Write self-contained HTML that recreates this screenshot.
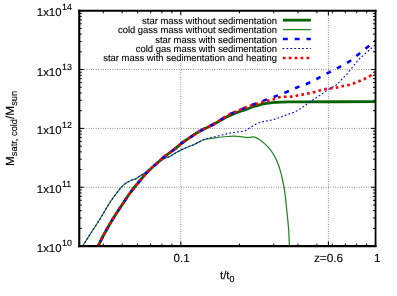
<!DOCTYPE html>
<html><head><meta charset="utf-8"><title>plot</title>
<style>html,body{margin:0;padding:0;background:#fff;}svg{display:block}text{font-family:"Liberation Sans",sans-serif;fill:#000;stroke:#000;stroke-width:0.12px;text-rendering:geometricPrecision}</style>
</head><body>
<svg width="397" height="296" viewBox="0 0 397 296">
<rect width="397" height="296" fill="#fff"/>
<g stroke="#000" stroke-width="0.64" stroke-dasharray="0.75,1.62" stroke-opacity="0.9" fill="none">
<line x1="79.25" y1="187.25" x2="375.50" y2="187.25"/>
<line x1="79.25" y1="128.40" x2="375.50" y2="128.40"/>
<line x1="79.25" y1="69.55" x2="375.50" y2="69.55"/>
<line x1="180.80" y1="246.10" x2="180.80" y2="10.70"/>
<line x1="328.40" y1="246.10" x2="328.40" y2="10.70"/>
</g>
<rect x="100" y="14" width="216" height="48.3" fill="#fff"/>
<g stroke="#000" stroke-width="1.00" fill="none">
<line x1="79.25" y1="246.10" x2="83.85" y2="246.10"/>
<line x1="375.50" y1="246.10" x2="370.90" y2="246.10"/>
<line x1="79.25" y1="228.38" x2="81.80" y2="228.38"/>
<line x1="375.50" y1="228.38" x2="372.95" y2="228.38"/>
<line x1="79.25" y1="218.02" x2="81.80" y2="218.02"/>
<line x1="375.50" y1="218.02" x2="372.95" y2="218.02"/>
<line x1="79.25" y1="210.67" x2="81.80" y2="210.67"/>
<line x1="375.50" y1="210.67" x2="372.95" y2="210.67"/>
<line x1="79.25" y1="204.97" x2="81.80" y2="204.97"/>
<line x1="375.50" y1="204.97" x2="372.95" y2="204.97"/>
<line x1="79.25" y1="200.31" x2="81.80" y2="200.31"/>
<line x1="375.50" y1="200.31" x2="372.95" y2="200.31"/>
<line x1="79.25" y1="196.37" x2="81.80" y2="196.37"/>
<line x1="375.50" y1="196.37" x2="372.95" y2="196.37"/>
<line x1="79.25" y1="192.95" x2="81.80" y2="192.95"/>
<line x1="375.50" y1="192.95" x2="372.95" y2="192.95"/>
<line x1="79.25" y1="189.94" x2="81.80" y2="189.94"/>
<line x1="375.50" y1="189.94" x2="372.95" y2="189.94"/>
<line x1="79.25" y1="187.25" x2="83.85" y2="187.25"/>
<line x1="375.50" y1="187.25" x2="370.90" y2="187.25"/>
<line x1="79.25" y1="169.53" x2="81.80" y2="169.53"/>
<line x1="375.50" y1="169.53" x2="372.95" y2="169.53"/>
<line x1="79.25" y1="159.17" x2="81.80" y2="159.17"/>
<line x1="375.50" y1="159.17" x2="372.95" y2="159.17"/>
<line x1="79.25" y1="151.82" x2="81.80" y2="151.82"/>
<line x1="375.50" y1="151.82" x2="372.95" y2="151.82"/>
<line x1="79.25" y1="146.12" x2="81.80" y2="146.12"/>
<line x1="375.50" y1="146.12" x2="372.95" y2="146.12"/>
<line x1="79.25" y1="141.46" x2="81.80" y2="141.46"/>
<line x1="375.50" y1="141.46" x2="372.95" y2="141.46"/>
<line x1="79.25" y1="137.52" x2="81.80" y2="137.52"/>
<line x1="375.50" y1="137.52" x2="372.95" y2="137.52"/>
<line x1="79.25" y1="134.10" x2="81.80" y2="134.10"/>
<line x1="375.50" y1="134.10" x2="372.95" y2="134.10"/>
<line x1="79.25" y1="131.09" x2="81.80" y2="131.09"/>
<line x1="375.50" y1="131.09" x2="372.95" y2="131.09"/>
<line x1="79.25" y1="128.40" x2="83.85" y2="128.40"/>
<line x1="375.50" y1="128.40" x2="370.90" y2="128.40"/>
<line x1="79.25" y1="110.68" x2="81.80" y2="110.68"/>
<line x1="375.50" y1="110.68" x2="372.95" y2="110.68"/>
<line x1="79.25" y1="100.32" x2="81.80" y2="100.32"/>
<line x1="375.50" y1="100.32" x2="372.95" y2="100.32"/>
<line x1="79.25" y1="92.97" x2="81.80" y2="92.97"/>
<line x1="375.50" y1="92.97" x2="372.95" y2="92.97"/>
<line x1="79.25" y1="87.27" x2="81.80" y2="87.27"/>
<line x1="375.50" y1="87.27" x2="372.95" y2="87.27"/>
<line x1="79.25" y1="82.61" x2="81.80" y2="82.61"/>
<line x1="375.50" y1="82.61" x2="372.95" y2="82.61"/>
<line x1="79.25" y1="78.67" x2="81.80" y2="78.67"/>
<line x1="375.50" y1="78.67" x2="372.95" y2="78.67"/>
<line x1="79.25" y1="75.25" x2="81.80" y2="75.25"/>
<line x1="375.50" y1="75.25" x2="372.95" y2="75.25"/>
<line x1="79.25" y1="72.24" x2="81.80" y2="72.24"/>
<line x1="375.50" y1="72.24" x2="372.95" y2="72.24"/>
<line x1="79.25" y1="69.55" x2="83.85" y2="69.55"/>
<line x1="375.50" y1="69.55" x2="370.90" y2="69.55"/>
<line x1="79.25" y1="51.83" x2="81.80" y2="51.83"/>
<line x1="375.50" y1="51.83" x2="372.95" y2="51.83"/>
<line x1="79.25" y1="41.47" x2="81.80" y2="41.47"/>
<line x1="375.50" y1="41.47" x2="372.95" y2="41.47"/>
<line x1="79.25" y1="34.12" x2="81.80" y2="34.12"/>
<line x1="375.50" y1="34.12" x2="372.95" y2="34.12"/>
<line x1="79.25" y1="28.42" x2="81.80" y2="28.42"/>
<line x1="375.50" y1="28.42" x2="372.95" y2="28.42"/>
<line x1="79.25" y1="23.76" x2="81.80" y2="23.76"/>
<line x1="375.50" y1="23.76" x2="372.95" y2="23.76"/>
<line x1="79.25" y1="19.82" x2="81.80" y2="19.82"/>
<line x1="375.50" y1="19.82" x2="372.95" y2="19.82"/>
<line x1="79.25" y1="16.40" x2="81.80" y2="16.40"/>
<line x1="375.50" y1="16.40" x2="372.95" y2="16.40"/>
<line x1="79.25" y1="13.39" x2="81.80" y2="13.39"/>
<line x1="375.50" y1="13.39" x2="372.95" y2="13.39"/>
<line x1="79.25" y1="10.70" x2="83.85" y2="10.70"/>
<line x1="375.50" y1="10.70" x2="370.90" y2="10.70"/>
<line x1="180.80" y1="246.10" x2="180.80" y2="241.50"/>
<line x1="180.80" y1="10.70" x2="180.80" y2="15.30"/>
<line x1="375.55" y1="246.10" x2="375.55" y2="241.50"/>
<line x1="375.55" y1="10.70" x2="375.55" y2="15.30"/>
<line x1="328.40" y1="246.10" x2="328.40" y2="241.50"/>
<line x1="328.40" y1="10.70" x2="328.40" y2="15.30"/>
<line x1="103.30" y1="246.10" x2="103.30" y2="243.55"/>
<line x1="103.30" y1="10.70" x2="103.30" y2="13.25"/>
<line x1="122.17" y1="246.10" x2="122.17" y2="243.55"/>
<line x1="122.17" y1="10.70" x2="122.17" y2="13.25"/>
<line x1="137.59" y1="246.10" x2="137.59" y2="243.55"/>
<line x1="137.59" y1="10.70" x2="137.59" y2="13.25"/>
<line x1="150.63" y1="246.10" x2="150.63" y2="243.55"/>
<line x1="150.63" y1="10.70" x2="150.63" y2="13.25"/>
<line x1="161.93" y1="246.10" x2="161.93" y2="243.55"/>
<line x1="161.93" y1="10.70" x2="161.93" y2="13.25"/>
<line x1="171.89" y1="246.10" x2="171.89" y2="243.55"/>
<line x1="171.89" y1="10.70" x2="171.89" y2="13.25"/>
<line x1="239.43" y1="246.10" x2="239.43" y2="243.55"/>
<line x1="239.43" y1="10.70" x2="239.43" y2="13.25"/>
<line x1="273.72" y1="246.10" x2="273.72" y2="243.55"/>
<line x1="273.72" y1="10.70" x2="273.72" y2="13.25"/>
<line x1="298.05" y1="246.10" x2="298.05" y2="243.55"/>
<line x1="298.05" y1="10.70" x2="298.05" y2="13.25"/>
<line x1="316.92" y1="246.10" x2="316.92" y2="243.55"/>
<line x1="316.92" y1="10.70" x2="316.92" y2="13.25"/>
<line x1="332.34" y1="246.10" x2="332.34" y2="243.55"/>
<line x1="332.34" y1="10.70" x2="332.34" y2="13.25"/>
<line x1="345.38" y1="246.10" x2="345.38" y2="243.55"/>
<line x1="345.38" y1="10.70" x2="345.38" y2="13.25"/>
<line x1="356.68" y1="246.10" x2="356.68" y2="243.55"/>
<line x1="356.68" y1="10.70" x2="356.68" y2="13.25"/>
<line x1="366.64" y1="246.10" x2="366.64" y2="243.55"/>
<line x1="366.64" y1="10.70" x2="366.64" y2="13.25"/>
</g>
<defs><clipPath id="cp"><rect x="79.25" y="10.70" width="296.25" height="235.40"/></clipPath></defs>
<g clip-path="url(#cp)" fill="none" stroke-linejoin="round">
<path d="M98.13,246.00 C99.06,244.17 101.74,238.67 103.70,235.00 C105.66,231.33 107.82,227.50 109.87,224.00 C111.92,220.50 113.93,217.25 116.00,214.00 C118.07,210.75 120.33,207.44 122.30,204.48 C124.27,201.52 126.00,198.83 127.80,196.24 C129.60,193.65 131.08,191.51 133.10,188.94 C135.12,186.37 137.75,183.37 139.90,180.79 C142.05,178.21 144.02,175.64 146.00,173.48 C147.98,171.32 149.88,169.60 151.80,167.82 C153.72,166.04 155.52,164.58 157.50,162.80 C159.48,161.03 161.70,158.80 163.70,157.17 C165.70,155.53 167.53,154.45 169.50,152.99 C171.47,151.53 173.52,150.01 175.50,148.41 C177.48,146.81 179.43,144.88 181.40,143.37 C183.37,141.87 185.37,140.70 187.30,139.38 C189.23,138.06 191.02,136.78 193.00,135.47 C194.98,134.16 197.20,132.70 199.20,131.53 C201.20,130.36 203.03,129.44 205.00,128.45 C206.97,127.46 209.17,126.51 211.00,125.60 C212.83,124.69 214.20,123.98 216.00,123.00 C217.80,122.02 219.88,120.78 221.80,119.70 C223.72,118.62 225.53,117.47 227.50,116.49 C229.47,115.51 231.60,114.63 233.60,113.83 C235.60,113.03 237.53,112.37 239.50,111.68 C241.47,110.99 243.48,110.38 245.40,109.69 C247.32,109.00 249.03,108.19 251.00,107.51 C252.97,106.83 255.20,106.20 257.20,105.60 C259.20,105.00 261.02,104.34 263.00,103.91 C264.98,103.48 267.10,103.27 269.10,103.02 C271.10,102.77 273.03,102.55 275.00,102.40 C276.97,102.25 278.73,102.18 280.90,102.10 C283.07,102.02 284.82,101.95 288.00,101.90 C291.18,101.85 285.43,101.83 300.00,101.80 C314.57,101.77 362.83,101.72 375.40,101.70" stroke="#006400" stroke-width="2.8"/>
<path d="M82.60,246.00 C83.83,244.08 87.10,239.00 90.00,234.50 C92.90,230.00 96.67,224.37 100.00,219.00 C103.33,213.63 106.73,207.25 110.00,202.30 C113.27,197.35 117.35,192.17 119.60,189.31 C121.85,186.45 122.15,186.35 123.50,185.14 C124.85,183.93 126.37,182.85 127.70,182.03 C129.03,181.21 130.15,180.75 131.50,180.21 C132.85,179.67 134.55,179.41 135.80,178.80 C137.05,178.19 137.87,177.29 139.00,176.56 C140.13,175.83 140.88,175.51 142.60,174.40 C144.32,173.29 147.07,171.54 149.30,169.91 C151.53,168.28 153.60,166.43 156.00,164.60 C158.40,162.77 161.45,160.29 163.70,158.95 C165.95,157.61 167.53,157.57 169.50,156.58 C171.47,155.59 173.52,154.15 175.50,153.02 C177.48,151.90 179.43,150.80 181.40,149.83 C183.37,148.86 185.37,148.02 187.30,147.21 C189.23,146.41 191.02,145.89 193.00,145.00 C194.98,144.11 197.57,142.71 199.20,141.88 C200.83,141.05 201.62,140.45 202.80,140.00 C203.98,139.55 205.10,139.43 206.30,139.20 C207.50,138.97 208.55,138.82 210.00,138.60 C211.45,138.38 213.03,138.17 215.00,137.90 C216.97,137.63 219.63,137.23 221.80,137.00 C223.97,136.77 226.03,136.63 228.00,136.50 C229.97,136.37 231.48,136.17 233.60,136.20 C235.72,136.23 238.48,136.45 240.70,136.70 C242.92,136.95 245.35,137.60 246.90,137.70 C248.45,137.80 248.95,137.43 250.00,137.30 C251.05,137.17 252.20,136.85 253.20,136.90 C254.20,136.95 254.93,137.12 256.00,137.60 C257.07,138.08 258.17,138.80 259.60,139.80 C261.03,140.80 263.00,142.20 264.58,143.60 C266.16,145.00 267.72,146.55 269.11,148.20 C270.50,149.85 271.80,151.73 272.93,153.50 C274.06,155.27 274.92,156.72 275.90,158.80 C276.88,160.88 277.94,163.53 278.80,166.00 C279.67,168.47 280.43,171.10 281.09,173.60 C281.75,176.10 282.23,178.53 282.75,181.00 C283.27,183.47 283.77,185.57 284.23,188.40 C284.69,191.23 285.10,194.48 285.51,198.00 C285.92,201.52 286.32,205.83 286.70,209.50 C287.08,213.17 287.47,216.48 287.80,220.00 C288.13,223.52 288.43,226.37 288.70,230.60 C288.97,234.83 289.28,242.93 289.40,245.40" stroke="#208420" stroke-width="1.25"/>
<path d="M98.13,246.00 C99.06,244.17 101.74,238.67 103.70,235.00 C105.66,231.33 107.82,227.50 109.87,224.00 C111.92,220.50 113.93,217.25 116.00,214.00 C118.07,210.75 120.33,207.44 122.30,204.48 C124.27,201.52 126.00,198.83 127.80,196.24 C129.60,193.65 131.08,191.51 133.10,188.94 C135.12,186.37 137.75,183.37 139.90,180.79 C142.05,178.21 144.02,175.64 146.00,173.48 C147.98,171.32 149.88,169.60 151.80,167.82 C153.72,166.04 155.52,164.58 157.50,162.80 C159.48,161.03 161.70,158.80 163.70,157.17 C165.70,155.53 167.53,154.45 169.50,152.99 C171.47,151.53 173.52,150.01 175.50,148.41 C177.48,146.81 179.43,144.88 181.40,143.37 C183.37,141.87 185.37,140.70 187.30,139.38 C189.23,138.06 191.02,136.78 193.00,135.47 C194.98,134.16 197.20,132.70 199.20,131.53 C201.20,130.36 203.03,129.44 205.00,128.45 C206.97,127.46 209.17,126.56 211.00,125.60 C212.83,124.64 214.20,123.80 216.00,122.70 C217.80,121.60 219.88,120.22 221.80,119.01 C223.72,117.80 225.53,116.52 227.50,115.43 C229.47,114.34 231.60,113.41 233.60,112.50 C235.60,111.59 237.53,110.80 239.50,110.00 C241.47,109.20 243.48,108.50 245.40,107.70 C247.32,106.90 249.03,105.95 251.00,105.20 C252.97,104.45 255.60,103.77 257.20,103.20 C258.80,102.63 259.63,102.18 260.60,101.80 C261.57,101.42 261.73,101.37 263.00,100.90 C264.27,100.43 266.20,99.73 268.20,99.00 C270.20,98.27 272.88,97.30 275.00,96.50 C277.12,95.70 278.40,95.19 280.90,94.20 C283.40,93.21 287.23,91.73 290.00,90.57 C292.77,89.41 294.97,88.25 297.50,87.24 C300.03,86.23 302.65,85.54 305.20,84.50 C307.75,83.46 310.27,82.26 312.80,81.00 C315.33,79.74 317.87,78.27 320.40,76.93 C322.93,75.59 325.47,74.26 328.00,72.95 C330.53,71.64 333.10,70.39 335.60,69.10 C338.10,67.81 340.47,66.62 343.00,65.19 C345.53,63.76 348.30,62.25 350.80,60.51 C353.30,58.77 355.47,56.77 358.00,54.74 C360.53,52.72 363.40,50.47 366.00,48.36 C368.60,46.25 372.03,43.38 373.60,42.09 C375.17,40.80 375.10,40.85 375.40,40.60" stroke="#0000ff" stroke-width="2.6" stroke-dasharray="4.8,6.8" stroke-dashoffset="6.3"/>
<path d="M82.60,246.00 C83.83,244.08 87.10,239.00 90.00,234.50 C92.90,230.00 96.67,224.37 100.00,219.00 C103.33,213.63 106.73,207.25 110.00,202.30 C113.27,197.35 117.35,192.17 119.60,189.31 C121.85,186.45 122.15,186.35 123.50,185.14 C124.85,183.93 126.37,182.85 127.70,182.03 C129.03,181.21 130.15,180.75 131.50,180.21 C132.85,179.67 134.55,179.41 135.80,178.80 C137.05,178.19 137.87,177.29 139.00,176.56 C140.13,175.83 140.88,175.51 142.60,174.40 C144.32,173.29 147.07,171.54 149.30,169.91 C151.53,168.28 153.60,166.43 156.00,164.60 C158.40,162.77 161.45,160.29 163.70,158.95 C165.95,157.61 167.53,157.57 169.50,156.58 C171.47,155.59 173.52,154.15 175.50,153.02 C177.48,151.90 179.43,150.80 181.40,149.83 C183.37,148.86 185.37,148.02 187.30,147.21 C189.23,146.41 191.02,145.89 193.00,145.00 C194.98,144.11 197.57,142.71 199.20,141.88 C200.83,141.05 201.62,140.53 202.80,140.00 C203.98,139.47 205.10,139.07 206.30,138.70 C207.50,138.33 208.55,138.13 210.00,137.80 C211.45,137.47 213.03,137.17 215.00,136.70 C216.97,136.23 219.63,135.53 221.80,135.00 C223.97,134.47 226.03,133.92 228.00,133.50 C229.97,133.08 231.68,132.76 233.60,132.46 C235.52,132.16 237.53,132.02 239.50,131.71 C241.47,131.40 243.48,131.39 245.40,130.60 C247.32,129.81 249.03,128.11 251.00,126.94 C252.97,125.77 255.20,124.48 257.20,123.60 C259.20,122.71 261.03,122.13 263.00,121.63 C264.97,121.13 267.00,121.02 269.00,120.60 C271.00,120.18 273.02,119.69 275.00,119.10 C276.98,118.51 278.90,117.81 280.90,117.07 C282.90,116.33 285.03,115.37 287.00,114.64 C288.97,113.91 290.53,113.63 292.70,112.68 C294.87,111.73 297.92,110.16 300.00,108.93 C302.08,107.70 303.07,106.81 305.20,105.31 C307.33,103.81 310.27,101.62 312.80,99.91 C315.33,98.19 317.87,96.72 320.40,95.02 C322.93,93.32 325.47,91.34 328.00,89.73 C330.53,88.12 333.93,86.45 335.60,85.39 C337.27,84.33 337.23,84.08 338.00,83.38 C338.77,82.67 339.37,82.06 340.20,81.16 C341.03,80.26 341.95,79.09 343.00,77.99 C344.05,76.88 345.20,75.96 346.50,74.53 C347.80,73.10 349.38,71.15 350.80,69.39 C352.22,67.63 353.55,65.74 355.00,63.98 C356.45,62.22 357.98,60.41 359.50,58.85 C361.02,57.29 362.25,56.23 364.10,54.60 C365.95,52.97 368.72,50.69 370.60,49.04 C372.48,47.39 374.60,45.43 375.40,44.71" stroke="#0000ff" stroke-width="1.15" stroke-dasharray="1.75,2.18"/>
<path d="M98.13,246.00 C99.06,244.17 101.74,238.67 103.70,235.00 C105.66,231.33 107.82,227.50 109.87,224.00 C111.92,220.50 113.93,217.25 116.00,214.00 C118.07,210.75 120.33,207.44 122.30,204.48 C124.27,201.52 126.00,198.83 127.80,196.24 C129.60,193.65 131.08,191.51 133.10,188.94 C135.12,186.37 137.75,183.37 139.90,180.79 C142.05,178.21 144.02,175.64 146.00,173.48 C147.98,171.32 149.88,169.60 151.80,167.82 C153.72,166.04 155.52,164.58 157.50,162.80 C159.48,161.03 161.70,158.80 163.70,157.17 C165.70,155.53 167.53,154.45 169.50,152.99 C171.47,151.53 173.52,150.01 175.50,148.41 C177.48,146.81 179.43,144.88 181.40,143.37 C183.37,141.87 185.37,140.70 187.30,139.38 C189.23,138.06 191.02,136.78 193.00,135.47 C194.98,134.16 197.20,132.70 199.20,131.53 C201.20,130.36 203.03,129.44 205.00,128.45 C206.97,127.46 209.17,126.56 211.00,125.60 C212.83,124.64 214.20,123.80 216.00,122.70 C217.80,121.60 219.88,120.22 221.80,119.01 C223.72,117.80 225.53,116.52 227.50,115.43 C229.47,114.34 231.60,113.41 233.60,112.50 C235.60,111.59 237.53,110.80 239.50,110.00 C241.47,109.20 243.48,108.47 245.40,107.70 C247.32,106.93 249.03,106.07 251.00,105.40 C252.97,104.73 255.60,104.15 257.20,103.70 C258.80,103.25 258.77,103.22 260.60,102.70 C262.43,102.18 265.80,101.22 268.20,100.60 C270.60,99.98 272.88,99.60 275.00,99.00 C277.12,98.40 278.40,97.39 280.90,97.00 C283.40,96.61 287.23,96.95 290.00,96.69 C292.77,96.42 294.97,95.85 297.50,95.41 C300.03,94.97 302.65,94.56 305.20,94.07 C307.75,93.58 310.27,93.07 312.80,92.45 C315.33,91.83 317.87,90.97 320.40,90.34 C322.93,89.71 325.47,89.07 328.00,88.66 C330.53,88.25 333.10,88.31 335.60,87.87 C338.10,87.43 340.47,86.58 343.00,86.00 C345.53,85.42 348.30,85.14 350.80,84.40 C353.30,83.67 355.47,82.62 358.00,81.59 C360.53,80.56 363.40,79.53 366.00,78.20 C368.60,76.87 372.03,74.58 373.60,73.60 C375.17,72.62 375.10,72.52 375.40,72.30" stroke="#ff0000" stroke-width="2.6" stroke-dasharray="2.7,3.17" stroke-dashoffset="5.13"/>
</g>
<g stroke="#000" stroke-linecap="square">
<line x1="79.25" y1="10.70" x2="79.25" y2="246.10" stroke-width="2.15"/>
<line x1="375.55" y1="10.70" x2="375.55" y2="246.10" stroke-width="1.8"/>
<line x1="79.25" y1="10.70" x2="375.50" y2="10.70" stroke-width="2.0"/>
<line x1="79.25" y1="246.10" x2="375.50" y2="246.10" stroke-width="2.1"/>
</g>
<g style="will-change:transform">
<text x="61.5" y="252.05" font-size="11.40" text-anchor="end">1x10</text>
<text x="62.0" y="246.05" font-size="8.90">10</text>
<text x="61.5" y="193.20" font-size="11.40" text-anchor="end">1x10</text>
<text x="62.0" y="187.20" font-size="8.90">11</text>
<text x="61.5" y="134.35" font-size="11.40" text-anchor="end">1x10</text>
<text x="62.0" y="128.35" font-size="8.90">12</text>
<text x="61.5" y="75.50" font-size="11.40" text-anchor="end">1x10</text>
<text x="62.0" y="69.50" font-size="8.90">13</text>
<text x="61.5" y="16.15" font-size="11.40" text-anchor="end">1x10</text>
<text x="62.0" y="10.15" font-size="8.90">14</text>
<text x="181.70" y="261.8" font-size="11.70" text-anchor="middle">0.1</text>
<text x="328.50" y="261.8" font-size="11.80" text-anchor="middle">z=0.6</text>
<text x="377.20" y="261.8" font-size="11.70" text-anchor="middle">1</text>
<text x="220" y="278.7" font-size="11.40">t/t<tspan dy="3.4" font-size="8.90">0</tspan></text>
<g transform="translate(13.7,166.0) rotate(-90)"><text x="0" y="0" font-size="11.80">M<tspan dy="3.6" font-size="9.30">satr, cold</tspan><tspan dy="-3.6" font-size="11.80">/M</tspan><tspan dy="3.6" font-size="9.30">sun</tspan></text></g>
<text x="276.9" y="23.60" font-size="9.45" text-anchor="end">star mass without sedimentation</text>
<text x="276.9" y="33.05" font-size="9.45" text-anchor="end">cold gass mass without sedimentation</text>
<text x="276.9" y="42.50" font-size="9.45" text-anchor="end">star mass with sedimentation</text>
<text x="276.9" y="51.95" font-size="9.45" text-anchor="end">cold gas mass with sedimentation</text>
<text x="276.9" y="61.40" font-size="9.45" text-anchor="end">star mass with sedimentation and heating</text>
</g>
<g fill="none">
<line x1="282.90" x2="310.90" y1="20.15" y2="20.15" stroke="#006400" stroke-width="2.8"/>
<line x1="282.90" x2="310.90" y1="29.60" y2="29.60" stroke="#208420" stroke-width="1.25"/>
<line x1="282.90" x2="310.90" y1="39.05" y2="39.05" stroke="#0000ff" stroke-width="2.6" stroke-dasharray="4.9,6.9"/>
<line x1="282.50" x2="310.90" y1="48.50" y2="48.50" stroke="#0000ff" stroke-width="1.15" stroke-dasharray="1.75,2.18"/>
<line x1="282.90" x2="310.90" y1="57.95" y2="57.95" stroke="#ff0000" stroke-width="2.6" stroke-dasharray="2.7,3.2"/>
</g>
</svg>
</body></html>
